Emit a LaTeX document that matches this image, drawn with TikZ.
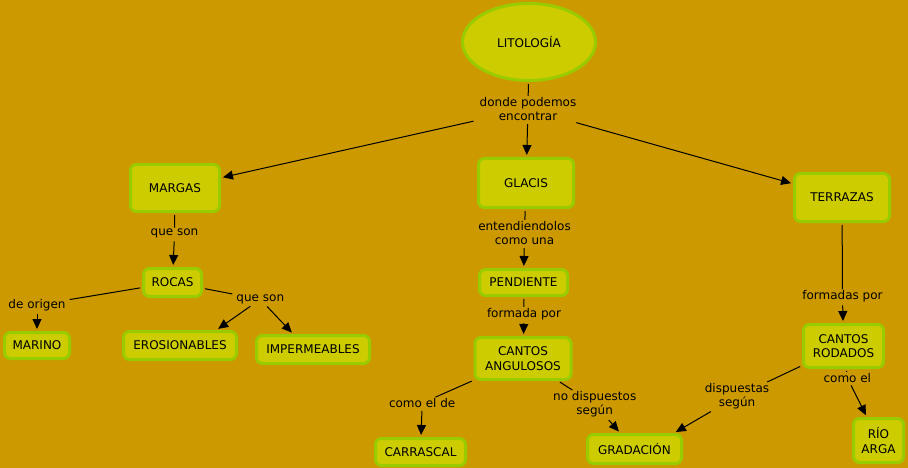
\documentclass[tikz,border=0pt]{standalone}
\usepackage{fontspec}
\setmainfont{DejaVu Sans}
\usetikzlibrary{arrows.meta,shapes.geometric}
\definecolor{bg}{HTML}{CC9900}
\definecolor{boxfill}{HTML}{CCCC00}
\definecolor{bord}{HTML}{99CC00}
\tikzset{
  txt/.style={font=\fontsize{12}{14.5}\selectfont, text=black},
  box/.style={txt, draw=bord, fill=boxfill, line width=3pt, rounded corners=6pt, inner sep=0pt, align=center},
  oval/.style={txt, ellipse, draw=bord, fill=boxfill, line width=3pt, inner sep=0pt},
  lbl/.style={txt, inner xsep=4pt, inner ysep=1pt, align=center},
  link/.style={line width=1pt, shorten <=2pt},
  arr/.style={link, -{Triangle[length=10pt,width=9pt]}, shorten >=2pt}
}
\begin{document}
\begin{tikzpicture}[x=1pt,y=-1pt]
\useasboundingbox (0,0) rectangle (908,468);
\fill[bg] (0,0) rectangle (908,468);
% concepts
\node[oval, minimum width=133pt, minimum height=77pt] (lit) at (529,42) {LITOLOGÍA};
\node[box, minimum width=95pt, minimum height=49pt] (glacis) at (526,183) {GLACIS};
\node[box, minimum width=89pt, minimum height=47pt] (margas) at (175,188) {MARGAS};
\node[box, minimum width=95pt, minimum height=48pt] (terrazas) at (842,197.5) {TERRAZAS};
\node[box, minimum width=58pt, minimum height=28pt] (rocas) at (172.5,282.5) {ROCAS};
\node[box, minimum width=65pt, minimum height=26pt] (marino) at (37,345.5) {MARINO};
\node[box, minimum width=113pt, minimum height=28pt] (ero) at (180,345.5) {EROSIONABLES};
\node[box, minimum width=113pt, minimum height=28pt] (imp) at (313,349.5) {IMPERMEABLES};
\node[box, minimum width=88pt, minimum height=26pt] (pend) at (523.5,282.5) {PENDIENTE};
\node[box, minimum width=96pt, minimum height=42pt] (cantang) at (523,358.5) {CANTOS\\ANGULOSOS};
\node[box, minimum width=90pt, minimum height=27pt] (carr) at (420.5,452) {CARRASCAL};
\node[box, minimum width=94pt, minimum height=29pt] (grad) at (634.5,449) {GRADACIÓN};
\node[box, minimum width=80pt, minimum height=43pt] (cantrod) at (843.5,346) {CANTOS\\RODADOS};
\node[box, minimum width=50pt, minimum height=44pt] (rio) at (878.5,440.5) {RÍO\\ARGA};
% linking phrases
\node[lbl] (l1) at (528,109) {donde podemos\\encontrar};
\node[lbl] (qs1) at (174.5,233.5) {que son};
\node[lbl] (orig) at (37,305) {de origen};
\node[lbl] (qs2) at (260.3,299.3) {que son};
\node[lbl] (ent) at (524.5,233) {entendiendolos\\como una};
\node[lbl] (fpor) at (524,314) {formada por};
\node[lbl] (fspor) at (842.5,296.3) {formadas por};
\node[lbl] (celde) at (422.2,403) {como el de};
\node[lbl] (nodisp) at (594.7,404.3) {no dispuestos\\según};
\node[lbl] (disp) at (737,396.3) {dispuestas\\según};
\node[lbl] (cel) at (847.3,377.8) {como el};
% connectors
\draw[link] (lit) -- (l1);
\draw[arr] (l1) -- (glacis);
\draw[arr] (l1) -- (margas);
\draw[arr] (l1) -- (terrazas);
\draw[link] (margas) -- (qs1);
\draw[arr] (qs1) -- (rocas);
\draw[link] (rocas) -- (orig);
\draw[arr] (orig) -- (marino);
\draw[link] (rocas) -- (qs2);
\draw[arr] (qs2) -- (ero.23);
\draw[arr] (qs2) -- (imp.142);
\draw[link] (glacis) -- (ent);
\draw[arr] (ent) -- (pend);
\draw[link] (pend) -- (fpor);
\draw[arr] (fpor) -- (cantang);
\draw[link] (cantang) -- (celde);
\draw[arr] (celde) -- (carr);
\draw[link] (cantang) -- (nodisp);
\draw[arr] (nodisp) -- (grad);
\draw[link] (terrazas) -- (fspor);
\draw[arr] (fspor) -- (cantrod);
\draw[link] (cantrod) -- (disp);
\draw[arr] (disp) -- (grad.22);
\draw[link] (cantrod) -- (cel);
\draw[arr] (cel) -- (rio);
\end{tikzpicture}
\end{document}
